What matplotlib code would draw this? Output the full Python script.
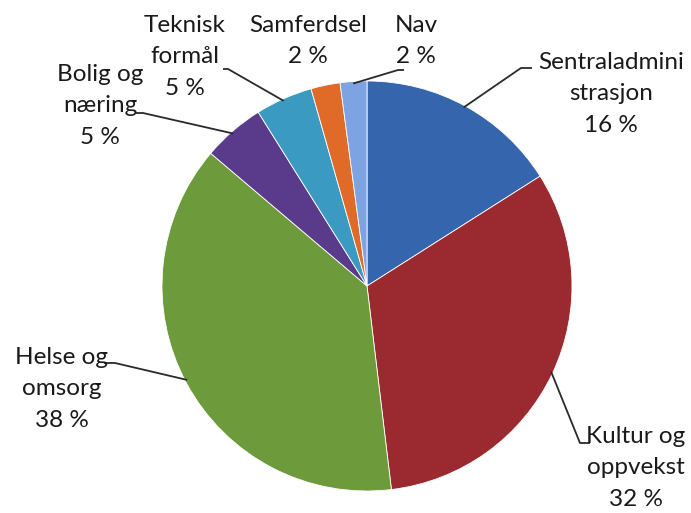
import matplotlib
matplotlib.use("Agg")
import matplotlib.pyplot as plt
import numpy as np

categories = ["Sentraladmini\nstrasjon", "Kultur og\noppvekst", "Helse og\nomsorg",
              "Bolig og\nnæring", "Teknisk\nformål", "Samferdsel", "Nav"]
values = [16.0, 32.1, 38.1, 4.9, 4.5, 2.3, 2.1]
pct_labels = ["16 %", "32 %", "38 %", "5 %", "5 %", "2 %", "2 %"]
colors = ["#3465ad", "#9a2a30", "#6d9a3b", "#5a3a8a", "#3a9ac1", "#e06a27", "#7ea3e2"]

W, H = 691, 513
CX, CY, R = 367, 286, 205

def P(px, py):
    return ((px - CX) / R, (CY - py) / R)

fig = plt.figure(figsize=(W / 100, H / 100), dpi=100)
ax = fig.add_axes([0, 0, 1, 1])
wedges, _ = ax.pie(values, colors=colors, startangle=90, counterclock=False,
                   radius=1.0, center=(0, 0),
                   wedgeprops=dict(linewidth=0.6, edgecolor="white"))
ax.set_xlim(P(0, 0)[0], P(W, 0)[0])
ax.set_ylim(P(0, H)[1], P(0, 0)[1])
ax.set_aspect("equal")
ax.axis("off")

# label layout (pixel positions of text centres) and leader lines
label_pos = [(611, 94), (636, 468), (62, 389), (100, 106), (185, 57), (308, 41), (416, 41)]
leader_start = [(466, 103), (552, 372), (185, 381), (230, 130), (282, 97), None, (353, 81)]
elbows = [[(521, 68), (532, 68)], [(580, 443), (590, 443)], [(115, 363), (104, 363)],
          [(143, 113), (136, 113)], [(228, 69), (223, 69)], None, [(398, 70), (404, 70)]]

font = dict(family=["Lato", "DejaVu Sans"], fontsize=17.5, color="#1a1a1a")
for i, w in enumerate(wedges):
    txt = categories[i] + "\n" + pct_labels[i]
    x, y = P(*label_pos[i])
    ax.text(x, y, txt, ha="center", va="center", linespacing=1.62, **font)
    if elbows[i] is None:
        continue
    sx, sy = P(*leader_start[i])
    n = np.hypot(sx, sy)
    sx, sy = sx / n * 0.99, sy / n * 0.99
    pts = [(sx, sy)] + [P(*e) for e in elbows[i]]
    xs, ys = zip(*pts)
    ax.plot(xs, ys, color="#2a2a2a", lw=1.3, solid_capstyle="butt")

fig.savefig("out.png", dpi=100, facecolor="white")
